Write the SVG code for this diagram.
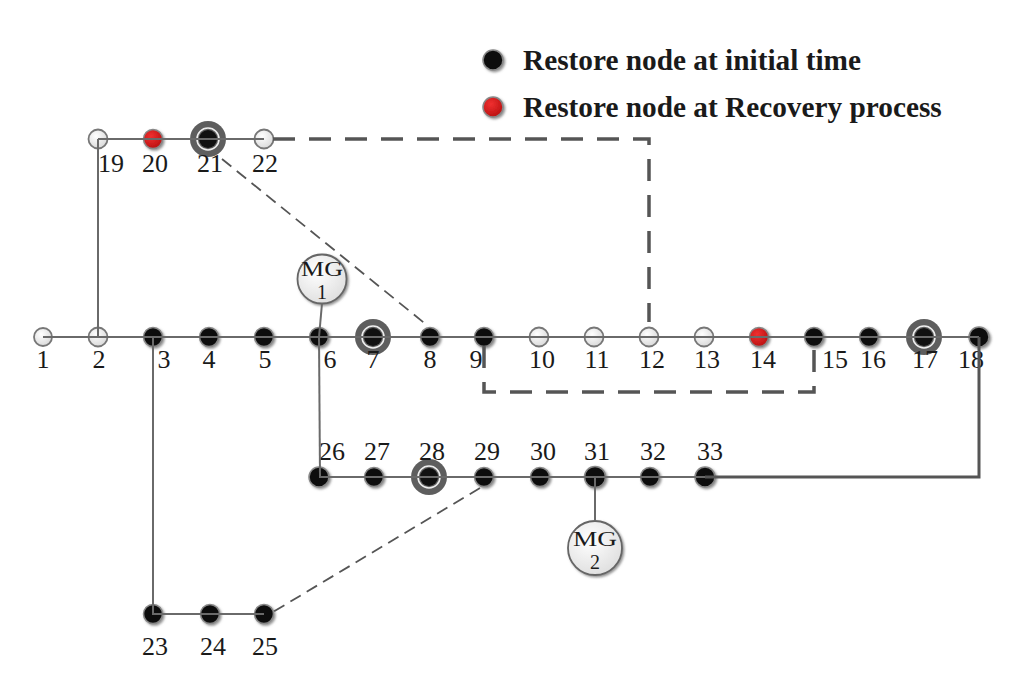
<svg xmlns="http://www.w3.org/2000/svg" width="1017" height="690" viewBox="0 0 1017 690">
<defs>
<filter id="sh" x="-50%" y="-50%" width="200%" height="200%"><feDropShadow dx="1.5" dy="1.5" stdDeviation="1" flood-color="#777" flood-opacity="0.8"/></filter>
<radialGradient id="wg" cx="40%" cy="35%" r="70%"><stop offset="0" stop-color="#ffffff"/><stop offset="1" stop-color="#d8d8d8"/></radialGradient>
<radialGradient id="rg" cx="40%" cy="35%" r="70%"><stop offset="0" stop-color="#f03030"/><stop offset="1" stop-color="#b81010"/></radialGradient>
<radialGradient id="mg" cx="40%" cy="35%" r="75%"><stop offset="0" stop-color="#ffffff"/><stop offset="1" stop-color="#dcdcdc"/></radialGradient>
</defs>
<style>
.b{fill:#111;stroke:#888;stroke-width:1.5;filter:url(#sh)}
.w{fill:url(#wg);stroke:#777;stroke-width:1.8}
.r{fill:url(#rg);stroke:#888;stroke-width:1.5;filter:url(#sh)}
.ring{fill:#5e5e5e}
.wr{fill:none;stroke:#eee;stroke-width:1.6}
.lb{font-family:"Liberation Serif","Times New Roman",serif;font-size:26px;fill:#1a1a1a;text-anchor:middle}
.mgt{font-family:"Liberation Serif","Times New Roman",serif;font-size:20px;fill:#1a1a1a;text-anchor:middle}
.lg{font-family:"Liberation Serif","Times New Roman",serif;font-size:29.3px;font-weight:bold;fill:#1a1a1a}
.s{fill:none;stroke:#6a6a6a;stroke-width:2}
.s3{fill:none;stroke:#555;stroke-width:3}
.dt{fill:none;stroke:#555;stroke-width:3.5;stroke-dasharray:22 14}
.dn{fill:none;stroke:#555;stroke-width:1.8;stroke-dasharray:12 7}
</style>
<rect width="1017" height="690" fill="#fff"/>
<g id="legend">
<circle cx="493" cy="60" r="10" class="b"/>
<text x="523" y="70" class="lg">Restore node at initial time</text>
<circle cx="493" cy="107" r="10" class="r"/>
<text x="523" y="117" class="lg">Restore node at Recovery process</text>
</g>
<g id="nodes">
<g id="n1"><circle cx="43" cy="337" r="9" class="w"/><text x="43" y="368" class="lb">1</text></g>
<g id="n2"><circle cx="98" cy="337" r="9.5" class="w"/><text x="99" y="368" class="lb">2</text></g>
<g id="n3"><circle cx="153" cy="337" r="9.5" class="b"/><text x="164" y="368" class="lb">3</text></g>
<g id="n4"><circle cx="209" cy="337" r="9.5" class="b"/><text x="209" y="368" class="lb">4</text></g>
<g id="n5"><circle cx="264" cy="337" r="9.5" class="b"/><text x="265" y="368" class="lb">5</text></g>
<g id="n6"><circle cx="319" cy="337" r="9.5" class="b"/><text x="330" y="368" class="lb">6</text></g>
<g id="n7"><circle cx="373" cy="337" r="18" class="ring"/><circle cx="373" cy="337" r="11" class="wr"/><circle cx="373" cy="337" r="9" fill="#111"/><text x="373" y="368" class="lb">7</text></g>
<g id="n8"><circle cx="430" cy="337" r="9.5" class="b"/><text x="430" y="368" class="lb">8</text></g>
<g id="n9"><circle cx="484" cy="337" r="9.5" class="b"/><text x="476" y="368" class="lb">9</text></g>
<g id="n10"><circle cx="539" cy="337" r="9.5" class="w"/><text x="542" y="368" class="lb">10</text></g>
<g id="n11"><circle cx="594" cy="337" r="9.5" class="w"/><text x="597" y="368" class="lb">11</text></g>
<g id="n12"><circle cx="649" cy="337" r="9.5" class="w"/><text x="652" y="368" class="lb">12</text></g>
<g id="n13"><circle cx="704" cy="337" r="9.5" class="w"/><text x="707" y="368" class="lb">13</text></g>
<g id="n14"><circle cx="759" cy="337" r="9.5" class="r"/><text x="763" y="368" class="lb">14</text></g>
<g id="n15"><circle cx="814" cy="337" r="9.5" class="b"/><text x="835" y="368" class="lb">15</text></g>
<g id="n16"><circle cx="869" cy="337" r="9.5" class="b"/><text x="873" y="368" class="lb">16</text></g>
<g id="n17"><circle cx="924" cy="337" r="18" class="ring"/><circle cx="924" cy="337" r="11" class="wr"/><circle cx="924" cy="337" r="9" fill="#111"/><text x="925" y="368" class="lb">17</text></g>
<g id="n18"><circle cx="979" cy="337" r="10" class="b"/><text x="971" y="368" class="lb">18</text></g>
<g id="n19"><circle cx="98" cy="139" r="9.5" class="w"/><text x="111" y="172" class="lb">19</text></g>
<g id="n20"><circle cx="153" cy="139" r="9.5" class="r"/><text x="155" y="172" class="lb">20</text></g>
<g id="n21"><circle cx="208" cy="139" r="18" class="ring"/><circle cx="208" cy="139" r="11" class="wr"/><circle cx="208" cy="139" r="9" fill="#111"/><text x="210" y="172" class="lb">21</text></g>
<g id="n22"><circle cx="264" cy="139" r="9.5" class="w"/><text x="265" y="172" class="lb">22</text></g>
<g id="n23"><circle cx="153" cy="614" r="9.5" class="b"/><text x="155" y="655" class="lb">23</text></g>
<g id="n24"><circle cx="210" cy="614" r="9.5" class="b"/><text x="213" y="655" class="lb">24</text></g>
<g id="n25"><circle cx="264" cy="614" r="9.5" class="b"/><text x="265" y="655" class="lb">25</text></g>
<g id="n26"><circle cx="319" cy="477" r="10" class="b"/><text x="332" y="460" class="lb">26</text></g>
<g id="n27"><circle cx="374" cy="477" r="9.5" class="b"/><text x="377" y="460" class="lb">27</text></g>
<g id="n28"><circle cx="429" cy="477" r="18" class="ring"/><circle cx="429" cy="477" r="11" class="wr"/><circle cx="429" cy="477" r="9" fill="#111"/><text x="432" y="460" class="lb">28</text></g>
<g id="n29"><circle cx="484" cy="477" r="9.5" class="b"/><text x="487" y="460" class="lb">29</text></g>
<g id="n30"><circle cx="540" cy="477" r="9.5" class="b"/><text x="543" y="460" class="lb">30</text></g>
<g id="n31"><circle cx="595" cy="477" r="10.5" class="b"/><text x="597" y="460" class="lb">31</text></g>
<g id="n32"><circle cx="650" cy="477" r="9.5" class="b"/><text x="653" y="460" class="lb">32</text></g>
<g id="n33"><circle cx="705" cy="477" r="10" class="b"/><text x="710" y="460" class="lb">33</text></g>
<g id="mg1"><circle cx="322" cy="279" r="24.5" fill="url(#mg)" stroke="#666" stroke-width="1.8" filter="url(#sh)"/><text x="322" y="276" class="mgt" textLength="42" lengthAdjust="spacingAndGlyphs">MG</text><text x="322" y="299" class="mgt">1</text></g>
<g id="mg2"><circle cx="595" cy="548" r="27" fill="url(#mg)" stroke="#666" stroke-width="1.8" filter="url(#sh)"/><text x="595" y="546" class="mgt" textLength="44" lengthAdjust="spacingAndGlyphs">MG</text><text x="595" y="569" class="mgt">2</text></g>
</g>
<g id="connectors">
<path class="s" d="M43,337 H979"/>
<path class="s" d="M98,139 H264"/>
<path class="s" d="M98,139 V337"/>
<path class="s" d="M153,337 V614 H264"/>
<path class="s" d="M319,337 L320,477"/>
<path class="s" d="M319,337 L322,303.5"/>
<path class="s" d="M319,477 H705"/>
<path class="s3" d="M705,477 H979 V337"/>
<path class="s" d="M595,477 V521"/>
<path class="dt" d="M273,139 H649 V322"/>
<path class="dt" d="M484,346 V392 H814 V346"/>
<path class="dn" d="M222,159 L428,326"/>
<path class="dn" d="M480,488 L273,612"/>
</g>
</svg>
